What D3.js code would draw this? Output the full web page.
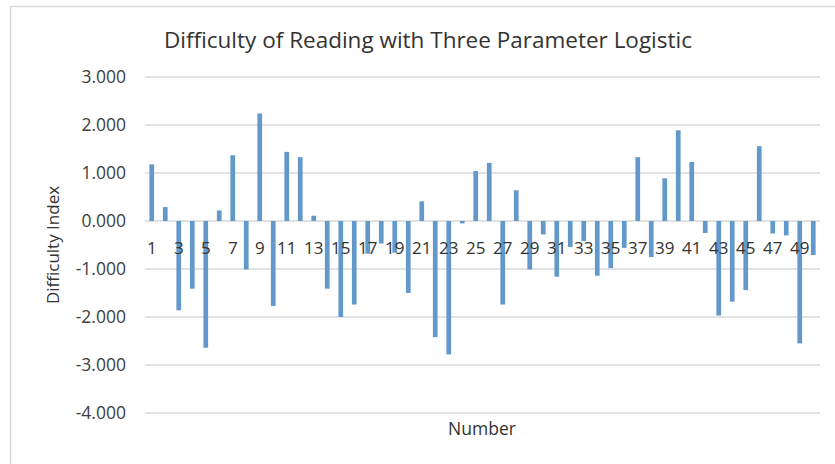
<!DOCTYPE html>
<html><head><meta charset="utf-8">
<script src="https://cdn.jsdelivr.net/npm/d3@7"></script>
<style>body{margin:0;background:#fff}svg{display:block}</style>
</head><body>
<svg id="c" width="835" height="464"></svg>
<script>
const categories = d3.range(1, 51);
const difficulty = [
  1.18, 0.29, -1.86, -1.41, -2.64, 0.22, 1.37, -1.01, 2.24, -1.77,
  1.44, 1.33, 0.11, -1.41, -2.00, -1.74, -0.68, -0.47, -0.66, -1.50,
  0.41, -2.42, -2.78, -0.05, 1.04, 1.21, -1.74, 0.64, -1.01, -0.28,
  -1.16, -0.54, -0.42, -1.14, -0.98, -0.56, 1.33, -0.75, 0.89, 1.89,
  1.23, -0.25, -1.97, -1.68, -1.44, 1.56, -0.26, -0.30, -2.55, -0.71
];
const yTicks = [3, 2, 1, 0, -1, -2, -3, -4];
const title = "Difficulty of Reading with Three Parameter Logistic";
const xTitle = "Number";
const yTitle = "Difficulty Index";

const svg = d3.select("#c");
const font = "'Open Sans', sans-serif";

svg.append("rect").attr("x", 10.5).attr("y", 6.5).attr("width", 840).attr("height", 470)
  .attr("fill", "#fff").attr("stroke", "#d9d9d9").attr("stroke-width", 1.5);

const x = d3.scaleBand().domain(categories).range([145, 820]).paddingInner(0.65).paddingOuter(0.325);
const y = d3.scaleLinear().domain([-4, 3]).range([413, 77]);

svg.append("g").selectAll("line").data(yTicks).join("line")
  .attr("x1", 145).attr("x2", 820)
  .attr("y1", d => y(d)).attr("y2", d => y(d))
  .attr("stroke", "#d9d9d9").attr("stroke-width", 1.3);

svg.append("g").selectAll("text").data(yTicks).join("text")
  .attr("x", 126).attr("y", d => y(d)).attr("dy", "0.36em")
  .attr("text-anchor", "end").attr("font-family", font).attr("font-size", 17.5)
  .attr("fill", "#404040").text(d => d3.format(".3f")(d).replace("\u2212", "-"));

svg.append("g").selectAll("rect").data(categories).join("rect")
  .attr("x", d => x(d)).attr("width", x.bandwidth())
  .attr("y", (d, i) => y(Math.max(0, difficulty[i])))
  .attr("height", (d, i) => Math.abs(y(difficulty[i]) - y(0)))
  .attr("fill", "#6399ca");

svg.append("g").selectAll("text").data(categories.filter(d => d % 2 === 1)).join("text")
  .attr("x", d => x(d) + x.bandwidth() / 2).attr("y", 254)
  .attr("text-anchor", "middle").attr("font-family", font).attr("font-size", 17)
  .attr("fill", "#333").text(d => d);

svg.append("text").attr("x", 428).attr("y", 48).attr("text-anchor", "middle")
  .attr("font-family", font).attr("font-size", 22.5).attr("fill", "#333").text(title);

svg.append("text").attr("x", 482).attr("y", 435).attr("text-anchor", "middle")
  .attr("font-family", font).attr("font-size", 17.5).attr("fill", "#333").text(xTitle);

svg.append("text").attr("transform", "translate(59,245) rotate(-90)").attr("text-anchor", "middle")
  .attr("font-family", font).attr("font-size", 17).attr("fill", "#333").text(yTitle);
</script>
</body></html>
